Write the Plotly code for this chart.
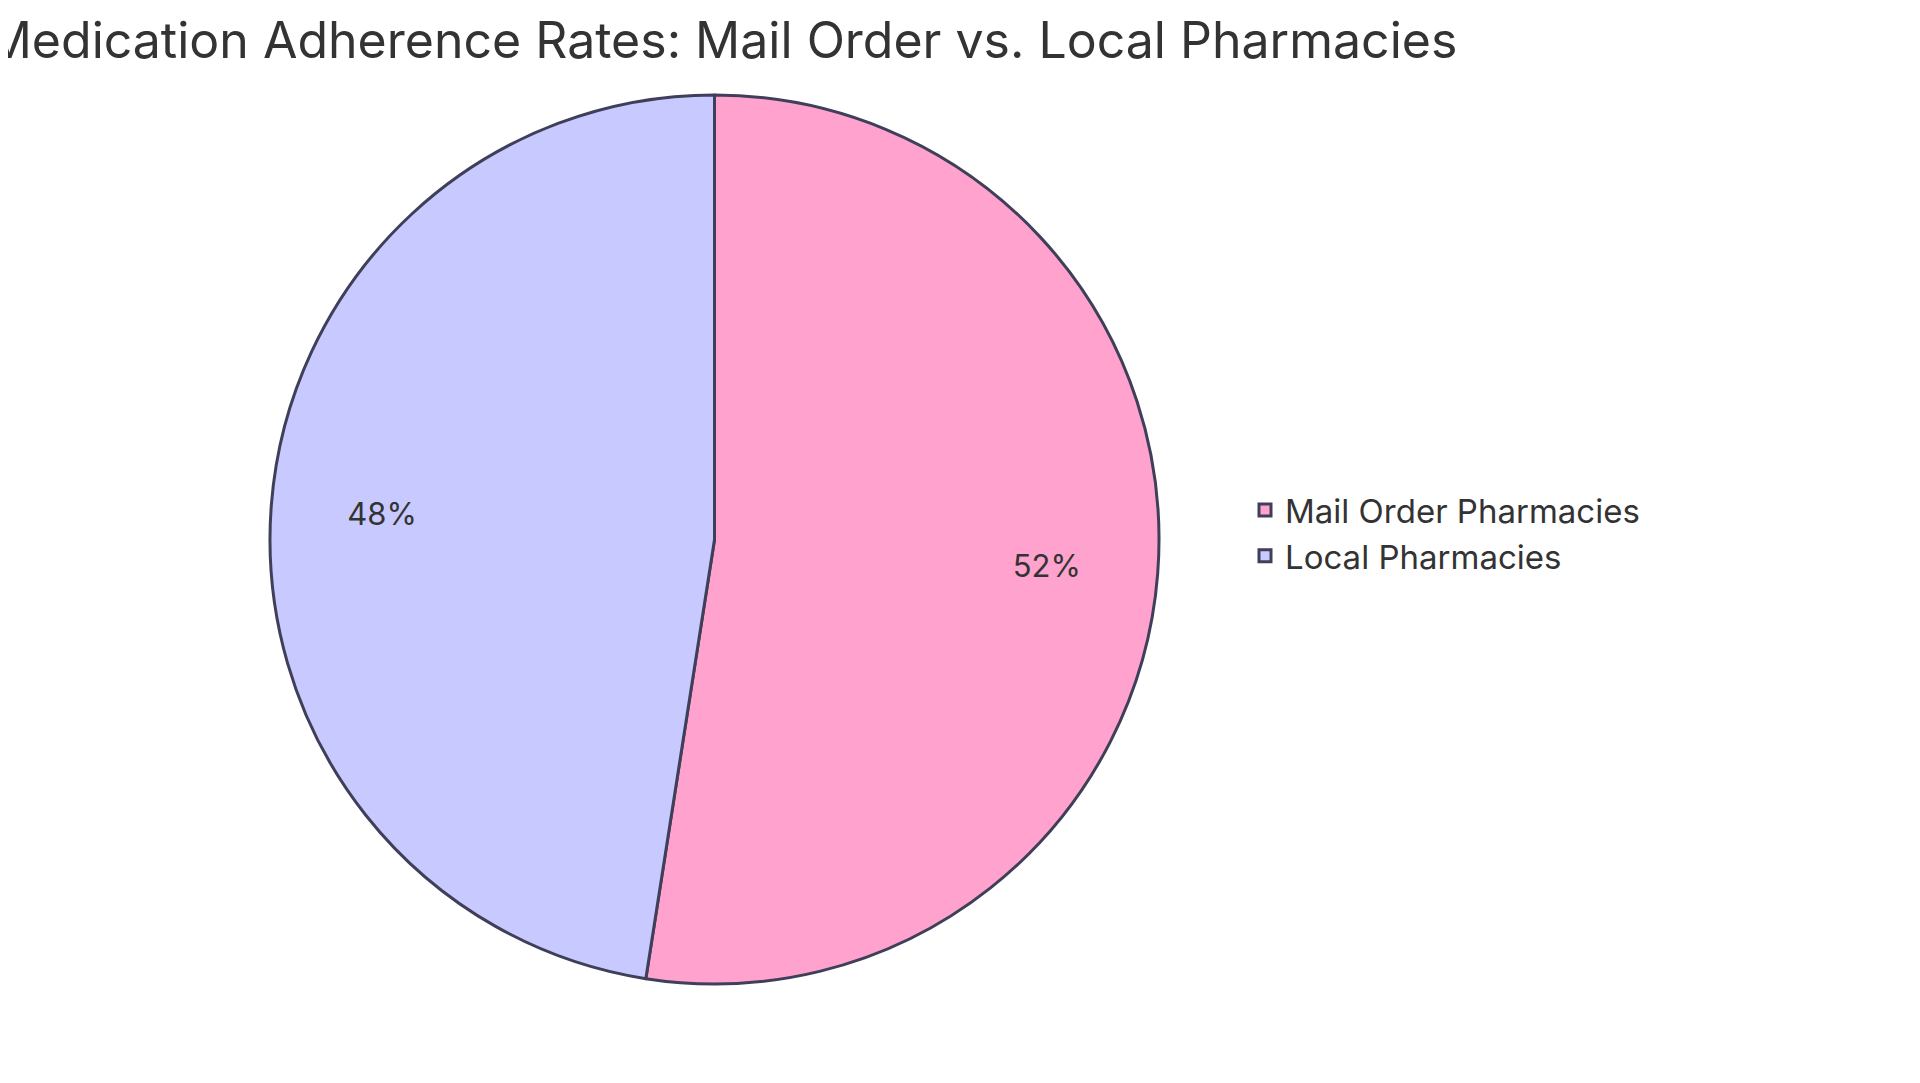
import plotly.graph_objects as go

# slices (adherence rates, shown as share of the total)
labels = ["Mail Order Pharmacies", "Local Pharmacies"]
values = [85, 77]
colors = ["#FFA3CE", "#C8CAFF"]

title_text = "Medication Adherence Rates: Mail Order vs. Local Pharmacies"

W, H = 1920, 1083
pie_domain = dict(x=[262 / W, 1151 / W], y=[1 - 976 / H, 1 - 87 / H])
font_family = "Inter, Noto Sans, sans-serif"

fig = go.Figure()

# the filled slices
fig.add_trace(go.Pie(
    labels=labels,
    values=values,
    sort=False,
    direction="clockwise",
    rotation=0,
    marker=dict(colors=colors, line=dict(color="#3F3F5A", width=3)),
    textinfo="none",
    domain=pie_domain,
    hoverinfo="label+percent",
))

# same data as a transparent ring so the percent labels sit further out
fig.add_trace(go.Pie(
    labels=labels,
    values=values,
    sort=False,
    direction="clockwise",
    rotation=0,
    hole=0.5,
    marker=dict(colors=["rgba(0,0,0,0)"] * len(labels), line=dict(width=0)),
    textinfo="percent",
    texttemplate="%{percent:.0%}",
    textposition="inside",
    insidetextorientation="horizontal",
    textfont=dict(family=font_family, size=31, color="#333333"),
    domain=pie_domain,
    showlegend=False,
    hoverinfo="skip",
))

fig.update_layout(
    width=W,
    height=H,
    margin=dict(l=0, r=0, t=0, b=0),
    paper_bgcolor="white",
    plot_bgcolor="white",
    font=dict(family=font_family, color="#333333"),
    title=dict(
        text=title_text,
        x=714 / W,
        xanchor="center",
        xref="paper",
        y=1 - 32 / H,
        yanchor="middle",
        yref="paper",
        font=dict(size=50, color="#333333"),
    ),
    legend=dict(
        x=1237 / W,
        xanchor="left",
        y=1 - 525 / H,
        yanchor="middle",
        font=dict(size=33, color="#333333"),
        bgcolor="rgba(0,0,0,0)",
    ),
)

fig.write_html("out.html")
